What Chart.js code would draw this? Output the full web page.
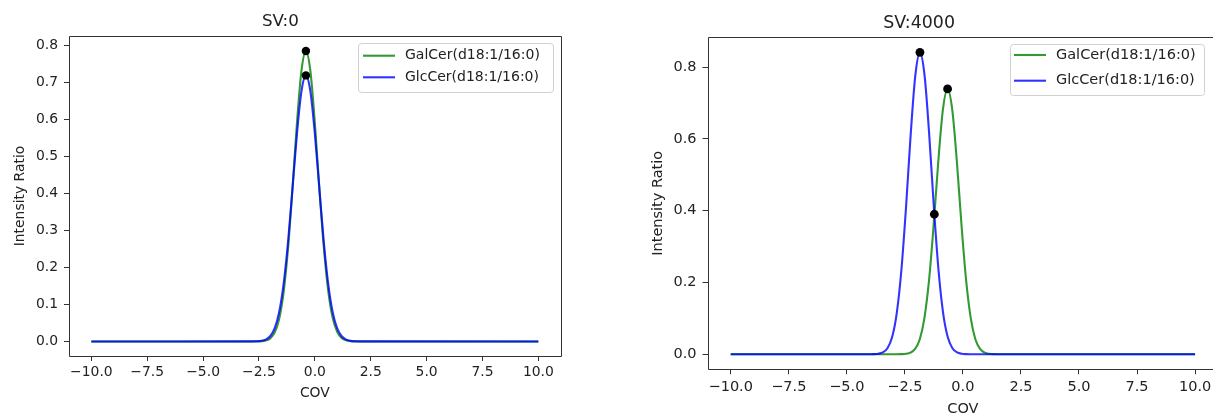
<!DOCTYPE html>
<html lang="en">
<head>
<meta charset="UTF-8">
<title>SV:0 / SV:4000 – GalCer vs GlcCer</title>
<script src="https://cdn.jsdelivr.net/npm/chart.js"></script>
<style>
  html, body { margin:0; padding:0; background:#fff; overflow:hidden; width:1213px; height:415px; }
  canvas { position:absolute; top:0; }
</style>
</head>
<body>

<canvas id="sv0" width="600" height="415" style="left:0"></canvas>
<canvas id="sv4000" width="620" height="431" style="left:620px"></canvas>

<script>
// ================= DATA =================
const seriesNames = ['GalCer(d18:1/16:0)', 'GlcCer(d18:1/16:0)'];
const xTicks = [-10, -7.5, -5, -2.5, 0, 2.5, 5, 7.5, 10];
const yTicksSV0 = [0, 0.1, 0.2, 0.3, 0.4, 0.5, 0.6, 0.7, 0.8];
const yTicksSV4000 = [0, 0.2, 0.4, 0.6, 0.8];

// SV:0 – both curves share one COV grid
const sv0Cov = [-10, -2.8, -2.6, -2.4, -2.2, -2.0, -1.8, -1.6, -1.4, -1.2, -1.0, -0.8, -0.6, -0.4,
                -0.2, 0.0, 0.2, 0.4, 0.6, 0.8, 1.0, 1.2, 1.4, 1.6, 1.8, 2.0, 10];
const sv0Gal = [0, 0, 0.0001, 0.0006, 0.0025, 0.008, 0.024, 0.060, 0.132, 0.251, 0.413, 0.590, 0.730, 0.784,
                0.730, 0.590, 0.415, 0.255, 0.136, 0.063, 0.026, 0.009, 0.003, 0.0006, 0.0001, 0, 0];
const sv0Glc = [0, 0.0001, 0.0004, 0.0015, 0.0049, 0.014, 0.035, 0.078, 0.154, 0.268, 0.413, 0.561, 0.675, 0.718,
                0.675, 0.561, 0.413, 0.268, 0.154, 0.078, 0.035, 0.014, 0.0049, 0.0015, 0.0004, 0.0001, 0];
const sv0PeakCov = [-0.4, -0.4];
const sv0PeakVal = [0.784, 0.718];

// SV:4000 – curves separated
const sv4000GalCov = [-10, -2.86, -2.66, -2.46, -2.26, -2.06, -1.86, -1.66, -1.46, -1.26, -1.06, -0.86, -0.66,
                      -0.46, -0.26, -0.06, 0.14, 0.34, 0.54, 0.74, 0.94, 1.14, 1.34, 1.54, 10];
const sv4000Gal = [0, 0, 0.0002, 0.0011, 0.0044, 0.0147, 0.041, 0.100, 0.205, 0.360, 0.537, 0.682, 0.739,
                   0.682, 0.537, 0.360, 0.205, 0.100, 0.041, 0.0147, 0.0044, 0.0011, 0.0002, 0, 0];
const sv4000GlcCov = [-10, -4.25, -4.05, -3.85, -3.65, -3.45, -3.25, -3.05, -2.85, -2.65, -2.45, -2.25, -2.05, -1.85,
                      -1.65, -1.45, -1.25, -1.05, -0.85, -0.65, -0.45, -0.25, -0.05, 0.15, 0.35, 0.55, 10];
const sv4000Glc = [0, 0, 0.0001, 0.0003, 0.0013, 0.0050, 0.0167, 0.047, 0.114, 0.234, 0.409, 0.611, 0.776, 0.841,
                   0.776, 0.611, 0.409, 0.234, 0.114, 0.047, 0.0167, 0.0050, 0.0013, 0.0003, 0.0001, 0, 0];
const sv4000PeakCov = [-1.85, -0.66, -1.23];
const sv4000PeakVal = [0.841, 0.739, 0.39];

// ================= HELPERS =================
const FONT = 'DejaVu Sans';
const GREEN = 'rgba(0,128,0,0.8)';
const BLUE = 'rgba(0,0,255,0.8)';

const pts = (xs, ys) => xs.map((x, i) => ({ x: x, y: ys[i] }));
const minus = s => s.replace('-', '\u2212');

// box around the plot area (matplotlib spines); right spine of SV:4000 is off-page
const framePlugin = {
  id: 'frame',
  afterDraw(chart, args, o) {
    const { ctx, chartArea: a } = chart;
    const l = Math.round(a.left) + 0.5, r = Math.round(a.right) + 0.5;
    const t = Math.round(a.top) + 0.5, b = Math.round(a.bottom) + 0.5;
    ctx.save();
    ctx.strokeStyle = '#333';
    ctx.lineWidth = 1;
    ctx.beginPath();
    ctx.moveTo(r, t); ctx.lineTo(l, t); ctx.lineTo(l, b); ctx.lineTo(r, b);
    if (o.right !== false) ctx.lineTo(r, t);
    ctx.stroke();
    ctx.restore();
  }
};

// legend box in the upper right corner
const boxLegend = {
  id: 'boxLegend',
  afterDraw(chart, args, o) {
    const ctx = chart.ctx;
    ctx.save();
    ctx.beginPath();
    ctx.roundRect(o.x + 0.5, o.y + 0.5, o.w, o.h, 3);
    ctx.fillStyle = 'rgba(255,255,255,0.8)';
    ctx.fill();
    ctx.strokeStyle = '#d0d0d0';
    ctx.lineWidth = 1;
    ctx.stroke();
    ctx.font = o.size + 'px "' + FONT + '"';
    ctx.textBaseline = 'middle';
    let row = 0;
    chart.data.datasets.forEach(ds => {
      if (!ds.label) return;
      const y = o.rows[row++];
      ctx.strokeStyle = ds.borderColor;
      ctx.lineWidth = 2.1;
      ctx.beginPath();
      ctx.moveTo(o.x + o.lineStart, y);
      ctx.lineTo(o.x + o.lineStart + 32, y);
      ctx.stroke();
      ctx.fillStyle = '#222';
      ctx.fillText(ds.label, o.x + o.textStart, y);
    });
    ctx.restore();
  }
};

function makeChart(id, cfg) {
  return new Chart(document.getElementById(id), {
    type: 'scatter',
    data: {
      datasets: [
        { label: seriesNames[0], data: cfg.gal, showLine: true, borderColor: GREEN, borderWidth: 2.1,
          pointRadius: 0, cubicInterpolationMode: 'monotone', order: 2 },
        { label: seriesNames[1], data: cfg.glc, showLine: true, borderColor: BLUE, borderWidth: 2.1,
          pointRadius: 0, cubicInterpolationMode: 'monotone', order: 1 },
        { label: '', data: cfg.peaks, showLine: false, pointRadius: cfg.dot, backgroundColor: '#000',
          borderWidth: 0, order: 0 }
      ]
    },
    options: {
      responsive: false,
      animation: false,
      layout: { padding: { left: 0, right: cfg.padRight, top: 0, bottom: 0 } },
      plugins: {
        legend: { display: false },
        tooltip: { enabled: false },
        title: {
          display: true, text: cfg.title, color: '#222',
          font: { family: FONT, size: cfg.titleSize, weight: 'normal', lineHeight: 1.2 },
          padding: { top: cfg.titleTop, bottom: cfg.titleBottom }
        },
        frame: { right: cfg.rightSpine },
        boxLegend: cfg.legend
      },
      scales: {
        x: {
          type: 'linear', min: -11, max: 11,
          afterBuildTicks: s => { s.ticks = xTicks.map(v => ({ value: v })); },
          afterFit: s => { s.height = cfg.xHeight; },
          grid: { drawOnChartArea: false, drawTicks: true, tickLength: 5, tickColor: '#333' },
          border: { display: false },
          ticks: { color: '#222', padding: cfg.xPad, maxRotation: 0, autoSkip: false,
                   font: { family: FONT, size: cfg.size },
                   callback: v => minus(Number(v).toFixed(1)) },
          title: { display: true, text: 'COV', color: '#222',
                   font: { family: FONT, size: cfg.size, lineHeight: 1.2 },
                   padding: { top: 0, bottom: cfg.xTitlePad } }
        },
        y: {
          type: 'linear', min: cfg.yMin, max: cfg.yMax,
          afterBuildTicks: s => { s.ticks = cfg.yTicks.map(v => ({ value: v })); },
          afterFit: s => { s.width = cfg.yWidth; },
          grid: { drawOnChartArea: false, drawTicks: true, tickLength: 5, tickColor: '#333' },
          border: { display: false },
          ticks: { color: '#222', padding: 6, font: { family: FONT, size: cfg.size },
                   callback: v => Number(v).toFixed(1) },
          title: { display: true, text: 'Intensity Ratio', color: '#222',
                   font: { family: FONT, size: cfg.size, lineHeight: 1.2 },
                   padding: { top: cfg.yTitlePad, bottom: 0 } }
        }
      }
    },
    plugins: [framePlugin, boxLegend]
  });
}

// ================= CHARTS =================
makeChart('sv0', {
  title: 'SV:0',
  gal: pts(sv0Cov, sv0Gal),
  glc: pts(sv0Cov, sv0Glc),
  peaks: pts(sv0PeakCov, sv0PeakVal),
  dot: 4.2,
  yMin: -0.0393, yMax: 0.8243, yTicks: yTicksSV0,
  size: 13.9, titleSize: 16.7, titleTop: 12, titleBottom: 4,
  padRight: 39.3, yWidth: 69, xHeight: 59, xPad: 3, xTitlePad: 13.7, yTitlePad: 11.7,
  rightSpine: true,
  legend: { x: 358, y: 43, w: 195, h: 49, rows: [55.7, 77.3], lineStart: 5, textStart: 47, size: 14 }
});

makeChart('sv4000', {
  title: 'SV:4000',
  gal: pts(sv4000GalCov, sv4000Gal),
  glc: pts(sv4000GlcCov, sv4000Glc),
  peaks: pts(sv4000PeakCov, sv4000PeakVal),
  dot: 4.4,
  yMin: -0.042, yMax: 0.883, yTicks: yTicksSV4000,
  size: 14.5, titleSize: 17.4, titleTop: 13, titleBottom: 3.4,
  padRight: 21.7, yWidth: 87.5, xHeight: 61.7, xPad: 4, xTitlePad: 13.3, yTitlePad: 29.2,
  rightSpine: false,
  legend: { x: 390, y: 44, w: 194, h: 51, rows: [55, 80.7], lineStart: 4, textStart: 46, size: 14.5 }
});
</script>
</body>
</html>
